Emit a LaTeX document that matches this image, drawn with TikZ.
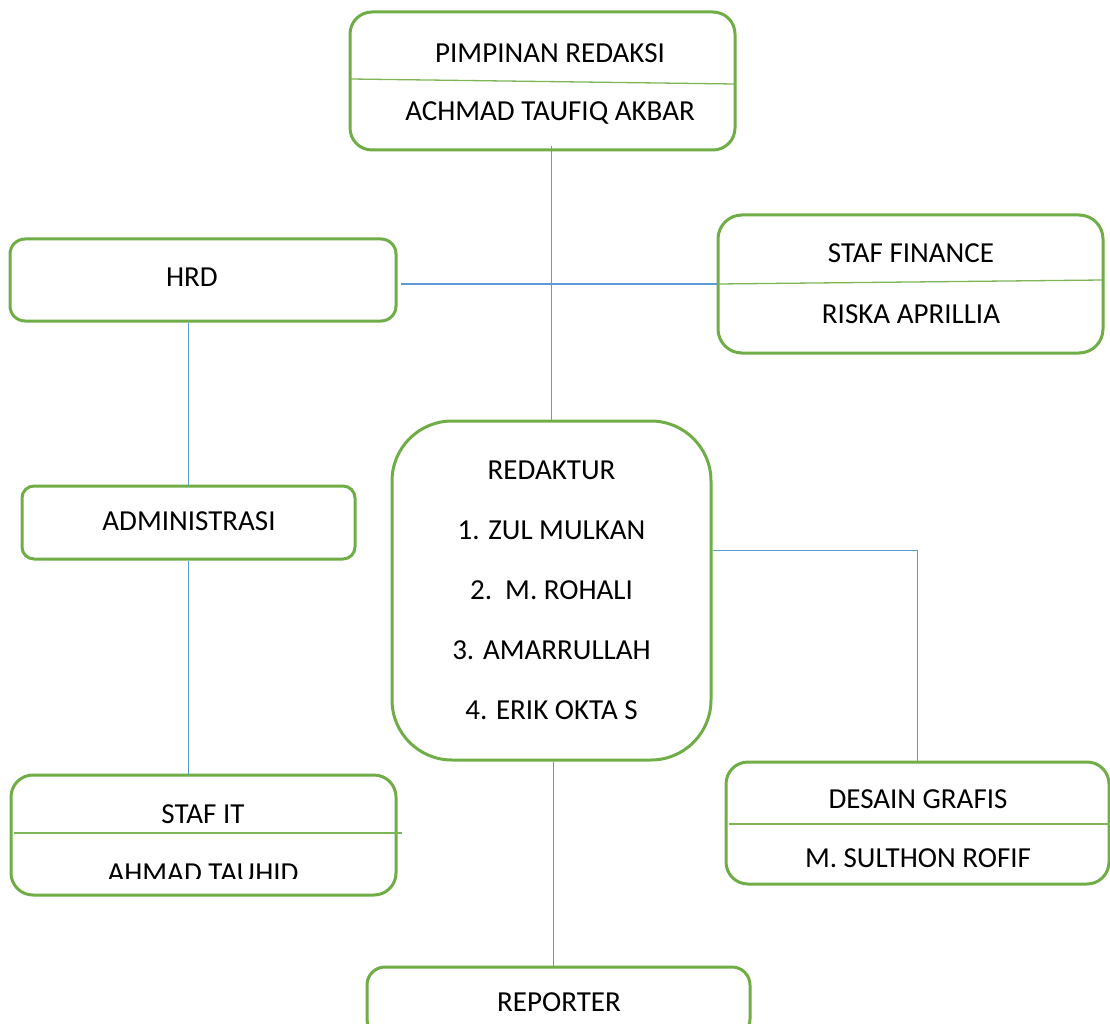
\documentclass[tikz,border=0pt]{standalone}
\usepackage{fontspec}
\setmainfont{Carlito}
\usepackage{tikz}
\usetikzlibrary{shapes,arrows}
\definecolor{boxgreen}{HTML}{70AD47}
\definecolor{linkblue}{HTML}{5B9BD5}
\tikzstyle{orgbox} = [rectangle, draw=boxgreen, line width=3pt, inner sep=0pt, align=center,
text=black, font=\fontsize{29}{60}\selectfont]
\tikzstyle{orgtext} = [inner sep=0pt, text=black, font=\fontsize{29}{34}\selectfont]
\tikzstyle{divider} = [draw=boxgreen!90, line width=1.3pt]
\tikzstyle{link} = [draw=linkblue, line width=1.3pt]

\begin{document}
\begin{tikzpicture}[x=1pt,y=-1pt]
    \useasboundingbox (0,0) rectangle (1110,1024);
    % boxes
    \node[orgbox,rounded corners=22pt,minimum width=385pt,minimum height=138pt] (pimpinan) at (542.5,81) {};
    \node[orgbox,rounded corners=15pt,minimum width=386pt,minimum height=82pt] (hrd) at (203,280) {};
    \node[orgbox,rounded corners=24pt,minimum width=385pt,minimum height=138pt] (finance) at (910.5,284) {};
    \node[orgbox,rounded corners=60pt,minimum width=319pt,minimum height=339pt] (redaktur) at (551.5,590.5)
        {REDAKTUR\\1. ZUL MULKAN\\2.\ \ M. ROHALI\\3. AMARRULLAH\\4. ERIK OKTA S};
    \node[orgbox,rounded corners=12pt,minimum width=333pt,minimum height=73pt] (admin) at (188.5,522.5) {};
    \node[orgbox,rounded corners=22pt,minimum width=385pt,minimum height=120pt] (stafit) at (203.5,835) {};
    \node[orgbox,rounded corners=22pt,minimum width=383pt,minimum height=122pt] (desain) at (917.5,823) {};
    \node[orgbox,rounded corners=18pt,minimum width=383pt,minimum height=70pt] (reporter) at (558.5,1002) {};

    % dividers
    \draw[divider] ([xshift=2pt,yshift=2pt]pimpinan.west) -- ([xshift=-2pt,yshift=-3pt]pimpinan.east);
    \draw[divider] ([xshift=2pt]finance.west) -- ([xshift=-2pt,yshift=4pt]finance.east);
    \draw[divider] ([xshift=4pt,yshift=2pt]stafit.west) -- ([xshift=4pt,yshift=2pt]stafit.east);
    \draw[divider] ([xshift=4pt,yshift=-1pt]desain.west) -- ([xshift=-1pt,yshift=-1pt]desain.east);

    % texts
    \node[orgtext] (pimpinantitle) at (550,53) {PIMPINAN REDAKSI};
    \node[orgtext] (pimpinanname) at (550,113) {ACHMAD TAUFIQ AKBAR};
    \node[orgtext] (hrdtitle) at (192,277) {HRD};
    \node[orgtext] (financetitle) at (911,253) {STAF FINANCE};
    \node[orgtext] (financename) at (911,314) {RISKA APRILLIA};
    \node[orgtext] (admintitle) at (189,521) {ADMINISTRASI};
    \node[orgtext] (stafittitle) at (203,814) {STAF IT};
    \begin{scope}
        \clip (0,0) rectangle (1110,878);
        \node[orgtext] (stafitname) at (203,873) {AHMAD TAUHID};
    \end{scope}
    \node[orgtext] (desaintitle) at (918,799) {DESAIN GRAFIS};
    \node[orgtext] (desainname) at (918,858) {M. SULTHON ROFIF};
    \node[orgtext] (reportertitle) at (559,1002) {REPORTER};

    % connectors
    \draw[link] ([yshift=5pt]redaktur.north |- pimpinan.south) -- (redaktur.north);
    \draw[link] ([xshift=3pt]hrd.east |- finance.west) -- (finance.west);
    \draw[link] (admin.north |- hrd.south) -- (admin.north);
    \draw[link] (admin.south) -- (admin.south |- stafit.north);
    \draw[link] ([yshift=40pt]redaktur.east) -| (desain.north);
    \draw[link] ([xshift=2pt]redaktur.south) -- ([xshift=2pt]redaktur.south |- reporter.north);
\end{tikzpicture}
\end{document}
